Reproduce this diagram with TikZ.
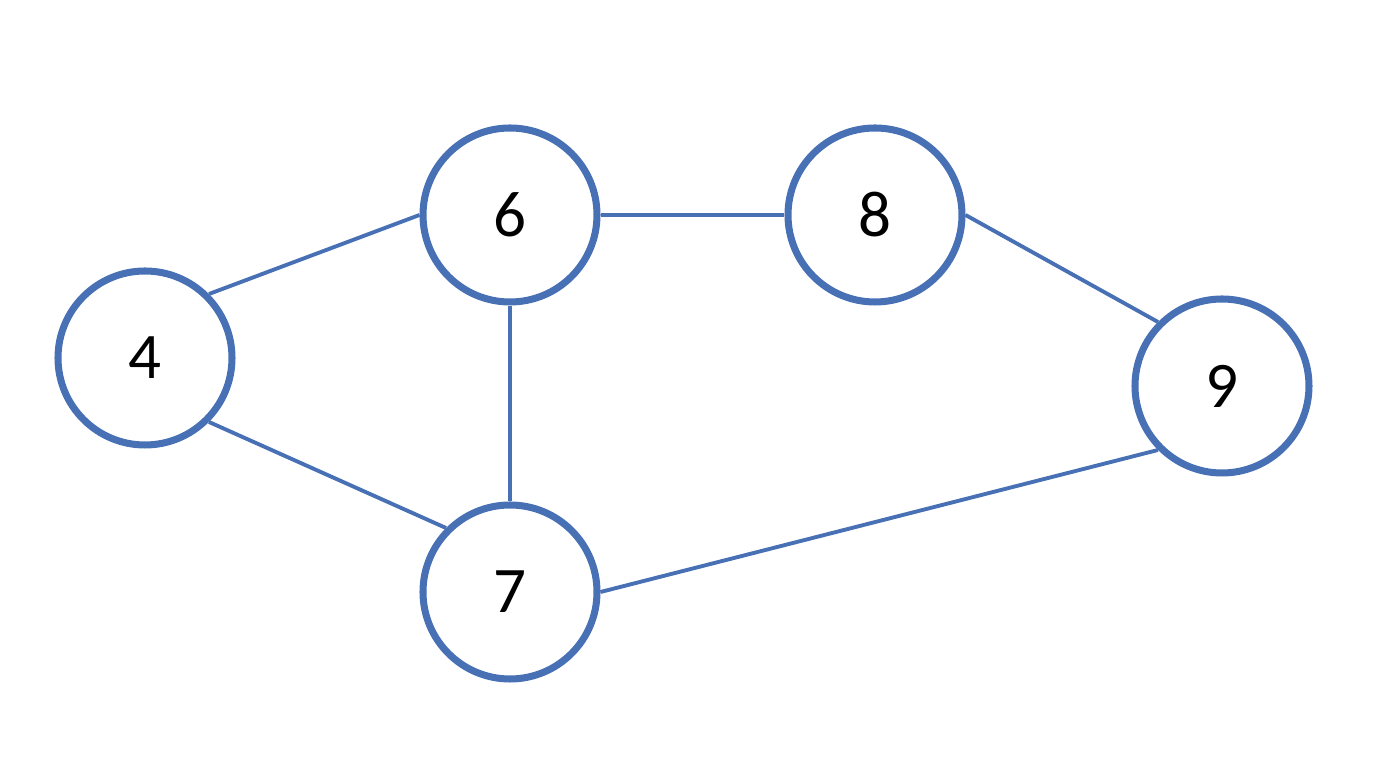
\documentclass[tikz,border=0pt]{standalone}
\usepackage{fontspec}
\setmainfont{Carlito}
\usepackage{tikz}
\usepackage{xcolor}
\usetikzlibrary{positioning}
\definecolor{nodeblue}{RGB}{72,112,180}
\tikzset{
  line cap=round,
  line join=round,
  vertex/.style={draw=nodeblue, circle, line width=2pt, minimum size=1.74cm, inner sep=0pt, font=\fontsize{18.5}{22}\selectfont},
  edge/.style={draw=nodeblue, line width=1.1pt}
}

\begin{document}
\begin{tikzpicture}
  \useasboundingbox (0,0) rectangle (13.76,7.68);

  \node[vertex] (n4) at (1.45,4.10) {4};
  \node[vertex] (n6) at (5.10,5.53) {6};
  \node[vertex] (n8) at (8.75,5.53) {8};
  \node[vertex] (n9) at (12.22,3.82) {9};
  \node[vertex] (n7) at (5.10,1.76) {7};

  \draw[edge] (n4.north east) -- (n6.west);
  \draw[edge] (n4.south east) -- (n7.north west);
  \draw[edge] (n6.south) -- (n7.north);
  \draw[edge] (n6.east) -- (n8.west);
  \draw[edge] (n8.east) -- (n9.north west);
  \draw[edge] (n9.south west) -- (n7.east);
\end{tikzpicture}
\end{document}
